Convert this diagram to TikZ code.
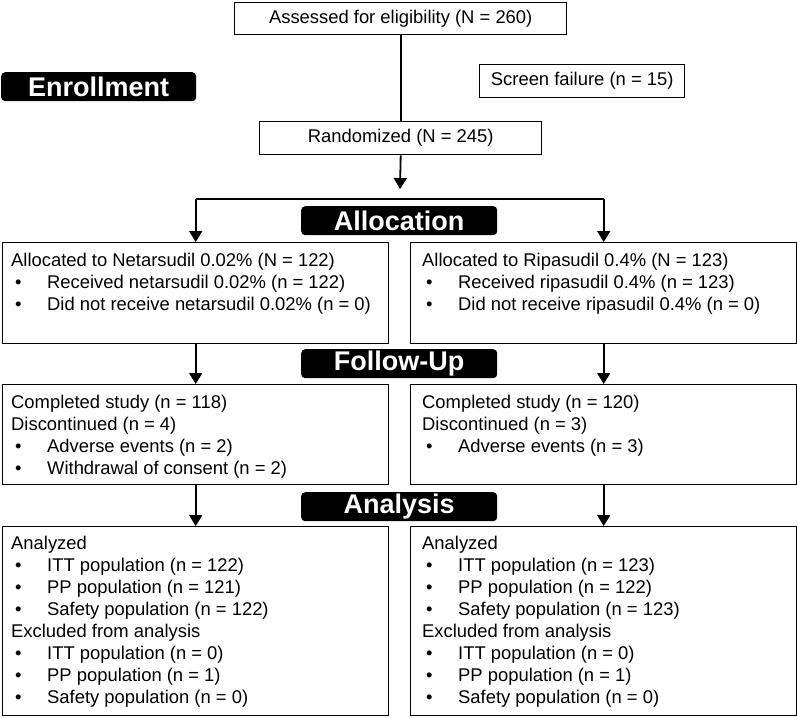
\documentclass[tikz,border=0pt]{standalone}
\usepackage{fontspec}
\setmainfont{Liberation Sans}
\usetikzlibrary{arrows.meta,calc}
\newcommand\bul{\hspace*{4pt}\makebox[32pt][l]{\textbullet}}
\begin{document}
\begin{tikzpicture}[x=1pt,y=-1pt,
 box/.style={draw,line width=1.4pt,inner sep=0,anchor=north west,font=\fontsize{18.4}{22}\selectfont},
 txt/.style={anchor=north west,inner sep=0,align=left,font=\fontsize{18.4}{22}\selectfont},
 stage/.style={fill=black,text=white,rounded corners=4pt,anchor=north west,inner sep=0,font=\fontsize{27}{30}\selectfont\bfseries},
 arr/.style={-{Triangle[length=11pt,width=13pt]},line width=1.8pt},
 ln/.style={line width=1.8pt}]
\useasboundingbox (0,0) rectangle (797,717);
% enrollment
\node[box,minimum width=332pt,minimum height=32pt] (assess) at (234,2) {Assessed for eligibility (N = 260)};
\node[box,minimum width=205pt,minimum height=33pt] (screen) at (479,64) {Screen failure (n = 15)};
\node[box,minimum width=282pt,minimum height=33pt] (rand) at (259,121) {Randomized (N = 245)};
\node[stage,minimum width=195pt,minimum height=29pt] (enroll) at (1,72) {Enrollment};
\node[stage,minimum width=196pt,minimum height=29pt] (alloc) at (301,206) {Allocation};
\node[stage,minimum width=196pt,minimum height=29pt] (follow) at (301,349) {Follow-Up};
\node[stage,minimum width=196pt,minimum height=29pt] (anal) at (301,492) {Analysis};
% boxes
\node[box,minimum width=386pt,minimum height=101pt] (alL) at (2,242) {};
\node[box,minimum width=386pt,minimum height=101pt] (alR) at (410,242) {};
\node[box,minimum width=386pt,minimum height=100pt] (fuL) at (2,384) {};
\node[box,minimum width=386pt,minimum height=100pt] (fuR) at (410,384) {};
\node[box,minimum width=386pt,minimum height=189pt] (anL) at (2,526) {};
\node[box,minimum width=386pt,minimum height=189pt] (anR) at (410,526) {};
% texts
\node[txt] (alLt) at ($(alL.north west)+(9,11)$) {Allocated to Netarsudil 0.02\% (N = 122)\\
\bul Received netarsudil 0.02\% (n = 122)\\
\bul Did not receive netarsudil 0.02\% (n = 0)};
\node[txt] (alRt) at ($(alR.north west)+(12,11)$) {Allocated to Ripasudil 0.4\% (N = 123)\\
\bul Received ripasudil 0.4\% (n = 123)\\
\bul Did not receive ripasudil 0.4\% (n = 0)};
\node[txt] (fuLt) at ($(fuL.north west)+(9,11)$) {Completed study (n = 118)\\
Discontinued (n = 4)\\
\bul Adverse events (n = 2)\\
\bul Withdrawal of consent (n = 2)};
\node[txt] (fuRt) at ($(fuR.north west)+(12,11)$) {Completed study (n = 120)\\
Discontinued (n = 3)\\
\bul Adverse events (n = 3)};
\node[txt] (anLt) at ($(anL.north west)+(9,10)$) {Analyzed\\
\bul ITT population (n = 122)\\
\bul PP population (n = 121)\\
\bul Safety population (n = 122)\\
Excluded from analysis\\
\bul ITT population (n = 0)\\
\bul PP population (n = 1)\\
\bul Safety population (n = 0)};
\node[txt] (anRt) at ($(anR.north west)+(12,10)$) {Analyzed\\
\bul ITT population (n = 123)\\
\bul PP population (n = 122)\\
\bul Safety population (n = 123)\\
Excluded from analysis\\
\bul ITT population (n = 0)\\
\bul PP population (n = 1)\\
\bul Safety population (n = 0)};
% connectors
\coordinate (split) at (400,199);
\coordinate (tip) at (400,189);
\draw[ln] (assess.south) -- (rand.north);
\draw[arr] (rand.south) -- (tip);
\draw[ln,line cap=square] (alL.north |- split) -- (alR.north |- split);
\draw[arr] (alL.north |- split) -- (alL.north);
\draw[arr] (alR.north |- split) -- (alR.north);
\draw[arr] (alL.south) -- (fuL.north);
\draw[arr] (alR.south) -- (fuR.north);
\draw[arr] (fuL.south) -- (anL.north);
\draw[arr] (fuR.south) -- (anR.north);
\end{tikzpicture}
\end{document}
